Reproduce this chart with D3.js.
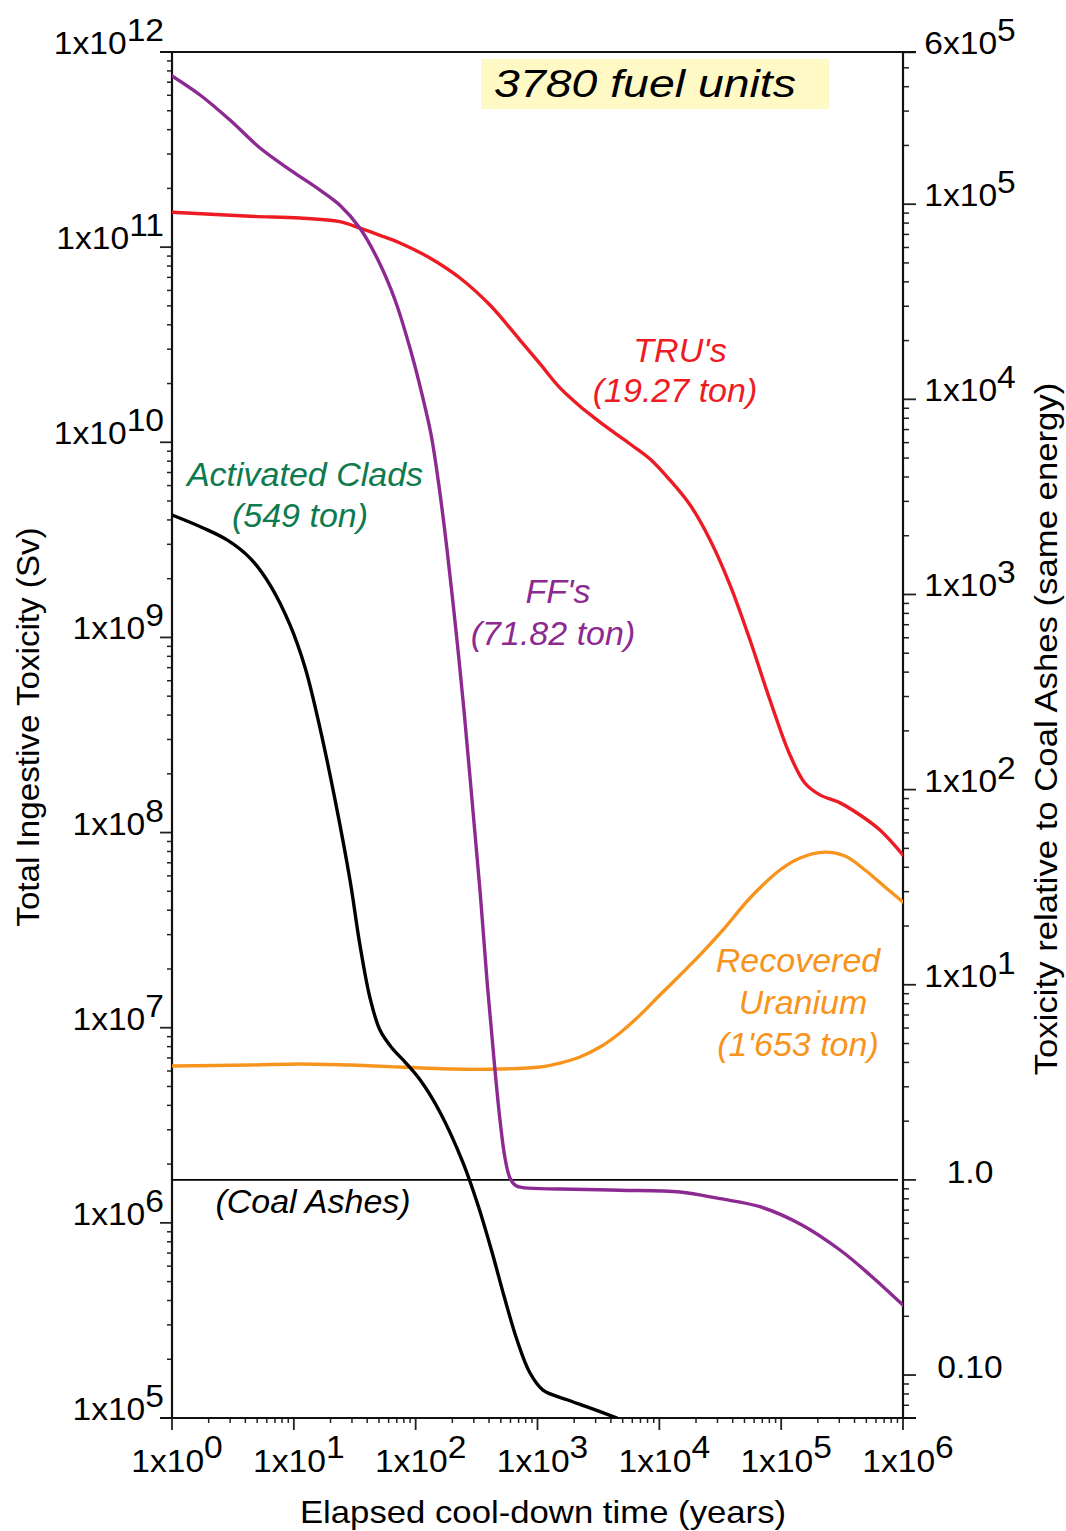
<!DOCTYPE html>
<html><head><meta charset="utf-8">
<script src="https://cdn.jsdelivr.net/npm/d3@7"></script>
<style>
body{margin:0;background:#fff}
svg{display:block}
text{font-family:"Liberation Sans",Arial,Helvetica,sans-serif;fill:#000}
</style>
</head><body>
<svg id="c" width="1066" height="1531"></svg>
<script>
// ---------- data ----------
const xTickExps = [0, 1, 2, 3, 4, 5, 6];
const leftTickExps = [5, 6, 7, 8, 9, 10, 11, 12];
const rightTickValues = [6e5, 1e5, 1e4, 1e3, 1e2, 1e1, 1, 0.1];
const rightTickLabels = [["6x10","5"],["1x10","5"],["1x10","4"],["1x10","3"],["1x10","2"],["1x10","1"],["1.0",""],["0.10",""]];
const coalAshSv = 1.66e6;

const ffTime = [1, 1.70, 2.99, 5.28, 9.30, 16.4, 23.9, 34.9, 49.1, 67.7, 89.8, 113, 134, 155, 181, 214, 249, 290, 337, 385, 440, 492, 541, 594, 666, 789, 1530, 4750, 14800, 31500, 67000, 143000, 304000, 536000, 1e6];
const ffSv = [7.54e11, 6.02e11, 4.48e11, 3.22e11, 2.49e11, 1.96e11, 1.64e11, 1.25e11, 8.59e10, 5.36e10, 3.04e10, 1.75e10, 1.09e10, 6.04e9, 2.81e9, 1.09e9, 4.25e8, 1.47e8, 5.08e7, 1.75e7, 6.82e6, 3.37e6, 2.15e6, 1.70e6, 1.55e6, 1.51e6, 1.49e6, 1.47e6, 1.44e6, 1.33e6, 1.21e6, 9.87e5, 7.26e5, 5.41e5, 3.79e5];

const truTime = [1, 4.37, 11.2, 23.9, 34.9, 50.9, 74.3, 131, 231, 407, 718, 1050, 1530, 2230, 2860, 3940, 5750, 8390, 12200, 17900, 26100, 38000, 55500, 80900, 118000, 157000, 208000, 304000, 444000, 647000, 1e6];
const truSv = [1.51e11, 1.44e11, 1.41e11, 1.35e11, 1.25e11, 1.15e11, 1.05e11, 8.80e10, 6.95e10, 5.05e10, 3.34e10, 2.52e10, 1.90e10, 1.53e10, 1.35e10, 1.16e10, 9.80e9, 8.21e9, 6.41e9, 4.77e9, 3.16e9, 1.86e9, 9.70e8, 4.78e8, 2.50e8, 1.79e8, 1.56e8, 1.42e8, 1.23e8, 1.03e8, 7.67e7];

const cladTime = [1, 1.80, 2.83, 4.37, 6.37, 9.30, 12.4, 16.4, 21.8, 28.9, 34.9, 42.2, 50.9, 63.9, 81.8, 109, 158, 245, 325, 423, 531, 679, 868, 1110, 1750, 2550, 4500];
const cladSv = [4.24e9, 3.64e9, 3.16e9, 2.55e9, 1.86e9, 1.16e9, 6.97e8, 3.43e8, 1.47e8, 5.71e7, 2.65e7, 1.42e7, 9.73e6, 7.87e6, 6.67e6, 5.39e6, 3.70e6, 2.03e6, 1.23e6, 7.09e5, 4.22e5, 2.51e5, 1.70e5, 1.39e5, 1.24e5, 1.14e5, 1e5];

const ruTime = [1, 4.37, 11.2, 28.9, 74.3, 191, 492, 1050, 1530, 2230, 3260, 4750, 6940, 10100, 14800, 21600, 33300, 55500, 97800, 143000, 229000, 334000, 488000, 711000, 1e6];
const ruSv = [6.37e6, 6.44e6, 6.52e6, 6.44e6, 6.29e6, 6.14e6, 6.14e6, 6.29e6, 6.59e6, 7.08e6, 7.96e6, 9.40e6, 1.16e7, 1.47e7, 1.86e7, 2.36e7, 3.17e7, 4.62e7, 6.43e7, 7.41e7, 7.94e7, 7.58e7, 6.43e7, 5.26e7, 4.41e7];

// ---------- layout ----------
const L = 172, R = 903, T = 52, B = 1418;
const svg = d3.select("#c");
const x = d3.scaleLog().domain([1, 1e6]).range([L, R]);
const y = d3.scaleLog().domain([1e5, 1e12]).range([B, T]);
const yR = d3.scaleLog().domain([1e5 / coalAshSv, 1e12 / coalAshSv]).range([B, T]);

const C = {red:"#ED1C24", purple:"#8C2A92", green:"#0E7A4E", orange:"#F7941D"};

// ---------- helpers ----------
function label(g, px, py, parts, o) {
  o = o || {};
  const size = o.size || 32, sx = o.sx || 1, rot = o.rot || 0;
  const t = g.append("text")
    .attr("transform", `translate(${px},${py})` + (rot ? ` rotate(${rot})` : "") + ` scale(${sx},1)`)
    .attr("text-anchor", o.anchor || "middle")
    .style("font-size", size + "px")
    .style("font-style", o.italic ? "italic" : "normal")
    .style("fill", o.color || "#000");
  t.append("tspan").text(parts[0]);
  if (parts[1]) t.append("tspan").attr("dy", -(o.supRaise || 13)).text(parts[1]);
  return t;
}

// ---------- clip ----------
svg.append("defs").append("clipPath").attr("id","plotClip")
  .append("rect").attr("x", L).attr("y", T).attr("width", R - L).attr("height", B - T);

// ---------- ticks ----------
const axG = svg.append("g").attr("stroke", "#222").attr("fill", "none");
const minors = (lo, hi) => { const a = []; for (let e = lo; e <= hi; e++) for (let m = 2; m <= 9; m++) a.push(m * Math.pow(10, e)); return a; };

const xMinor = minors(0, 5);
axG.selectAll(".xm").data(xMinor).join("line")
  .attr("x1", d => x(d)).attr("x2", d => x(d)).attr("y1", B).attr("y2", B + 5).attr("stroke-width", 1.5);
axG.selectAll(".xM").data(xTickExps).join("line")
  .attr("x1", d => x(Math.pow(10, d))).attr("x2", d => x(Math.pow(10, d))).attr("y1", B).attr("y2", B + 12).attr("stroke-width", 1.8);

const yMinor = minors(5, 11);
axG.selectAll(".ym").data(yMinor).join("line")
  .attr("x1", L - 5).attr("x2", L).attr("y1", d => y(d)).attr("y2", d => y(d)).attr("stroke-width", 1.5);
axG.selectAll(".yM").data(leftTickExps).join("line")
  .attr("x1", L - 12).attr("x2", L).attr("y1", d => y(Math.pow(10, d))).attr("y2", d => y(Math.pow(10, d))).attr("stroke-width", 1.8);

const dR = yR.domain();
const rMinor = [];
for (let e = -2; e <= 5; e++) for (let m = 1; m <= 9; m++) {
  const v = m * Math.pow(10, e);
  if (v >= dR[0] && v <= dR[1] && !rightTickValues.some(r => Math.abs(r - v) / v < 1e-6)) rMinor.push(v);
}
axG.selectAll(".rm").data(rMinor).join("line")
  .attr("x1", R).attr("x2", R + 6).attr("y1", d => yR(d)).attr("y2", d => yR(d)).attr("stroke-width", 1.5);
axG.selectAll(".rM").data(rightTickValues).join("line")
  .attr("x1", R).attr("x2", R + 13).attr("y1", d => yR(d)).attr("y2", d => yR(d)).attr("stroke-width", 1.8);

// frame
const fr = svg.append("g").attr("stroke", "#111").attr("stroke-width", 2.2);
fr.append("line").attr("x1", L - 12).attr("x2", R + 13).attr("y1", T).attr("y2", T);
fr.append("line").attr("x1", L - 12).attr("x2", R + 13).attr("y1", B).attr("y2", B);
fr.append("line").attr("x1", L).attr("x2", L).attr("y1", T).attr("y2", B);
fr.append("line").attr("x1", R).attr("x2", R).attr("y1", T).attr("y2", B);

// ---------- tick labels ----------
const tl = svg.append("g");
xTickExps.forEach(e => label(tl, x(Math.pow(10, e)) + 5, 1472, ["1x10", String(e)], {size: 32, sx: 1.05, supRaise: 14}));
leftTickExps.forEach(e => label(tl, 164, y(Math.pow(10, e)) + 2, ["1x10", String(e)], {size: 32, sx: 1.05, anchor: "end"}));
rightTickValues.forEach((v, i) => {
  const lb = rightTickLabels[i];
  label(tl, 970, yR(v) + (lb[1] ? 2 : 3), lb, {size: 32, sx: 1.05});
});

// ---------- axis titles ----------
label(svg, 543, 1523, ["Elapsed cool-down time (years)"], {size: 31, sx: 1.12});
label(svg, 39, 727, ["Total Ingestive Toxicity (Sv)"], {size: 31, sx: 1.07, rot: -90});
label(svg, 1057, 729, ["Toxicity relative to Coal Ashes (same energy)"], {size: 31, sx: 1.12, rot: -90});

// ---------- title box ----------
svg.append("rect").attr("x", 481).attr("y", 59).attr("width", 348).attr("height", 50).attr("fill", "#FFF9C6");
label(svg, 645, 97, ["3780 fuel units"], {size: 39, sx: 1.19, italic: true});

// ---------- coal ashes reference ----------
svg.append("line").attr("x1", L).attr("x2", R - 5).attr("y1", y(coalAshSv)).attr("y2", y(coalAshSv))
  .attr("stroke", "#000").attr("stroke-width", 1.6);

// ---------- curves ----------
const line = d3.line().x(d => x(d[0])).y(d => y(d[1])).curve(d3.curveCatmullRom.alpha(0.5));
const zip = (t, v) => t.map((ti, i) => [ti, v[i]]);
const cg = svg.append("g").attr("clip-path", "url(#plotClip)").attr("fill", "none")
  .attr("stroke-width", 3.4).attr("stroke-linejoin", "round").attr("stroke-linecap", "round");
cg.append("path").attr("d", line(zip(ruTime, ruSv))).attr("stroke", C.orange);
cg.append("path").attr("d", line(zip(cladTime, cladSv))).attr("stroke", "#000");
cg.append("path").attr("d", line(zip(truTime, truSv))).attr("stroke", C.red);
cg.append("path").attr("d", line(zip(ffTime, ffSv))).attr("stroke", C.purple);

// ---------- series labels ----------
const lg = svg.append("g");
label(lg, 680, 362, ["TRU's"], {size: 34, italic: true, color: C.red});
label(lg, 675, 402, ["(19.27 ton)"], {size: 34, italic: true, color: C.red});
label(lg, 305, 486, ["Activated Clads"], {size: 34, italic: true, color: C.green});
label(lg, 300, 527, ["(549 ton)"], {size: 34, italic: true, color: C.green});
label(lg, 558, 603, ["FF's"], {size: 34, italic: true, color: C.purple});
label(lg, 553, 645, ["(71.82 ton)"], {size: 34, italic: true, color: C.purple});
label(lg, 798, 972, ["Recovered"], {size: 34, italic: true, color: C.orange});
label(lg, 803, 1014, ["Uranium"], {size: 34, italic: true, color: C.orange});
label(lg, 798, 1056, ["(1'653 ton)"], {size: 34, italic: true, color: C.orange});
label(lg, 313, 1213, ["(Coal Ashes)"], {size: 34, italic: true, color: "#000"});
</script>
</body></html>
